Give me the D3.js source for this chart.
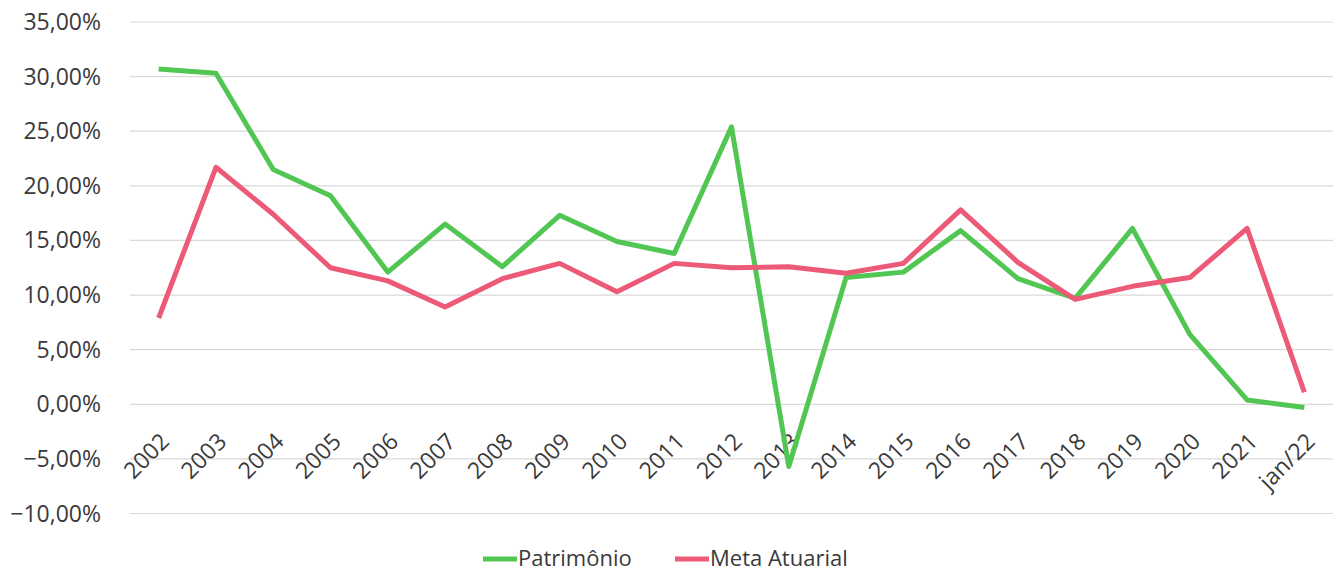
<!DOCTYPE html>
<html>
<head>
<meta charset="utf-8">
<script src="https://cdn.jsdelivr.net/npm/d3@7"></script>
<style>
  body { margin: 0; background: #fff; }
  text { font-family: "Open Sans", "Noto Sans", sans-serif; fill: #3a3a3a; }
</style>
</head>
<body>
<div id="chart"></div>
<script>
var width = 1336, height = 574;

// categories and series
var years = ["2002","2003","2004","2005","2006","2007","2008","2009","2010","2011","2012",
             "2013","2014","2015","2016","2017","2018","2019","2020","2021","jan/22"];
var patrimonio = [30.7, 30.3, 21.5, 19.1, 12.1, 16.5, 12.6, 17.3, 14.9, 13.8, 25.4,
                  -5.7, 11.6, 12.1, 15.9, 11.5, 9.7, 16.1, 6.4, 0.4, -0.3];
var metaAtuarial = [7.9, 21.7, 17.4, 12.5, 11.3, 8.9, 11.5, 12.9, 10.3, 12.9, 12.5,
                    12.6, 12.0, 12.9, 17.8, 13.0, 9.6, 10.8, 11.6, 16.1, 1.1];
var yTicks = [-10, -5, 0, 5, 10, 15, 20, 25, 30, 35];

var series = [
  {name: "Patrimônio", values: patrimonio, color: "#52c652"},
  {name: "Meta Atuarial", values: metaAtuarial, color: "#ec5a78"}
];

var margin = {left: 130, right: 3, top: 22, bottom: 60};

var svg = d3.select("#chart").append("svg")
  .attr("width", width)
  .attr("height", height);

var x = d3.scaleBand()
  .domain(years)
  .range([margin.left, width - margin.right]);

var y = d3.scaleLinear()
  .domain([-10, 35])
  .range([513.5, 22]);

// gridlines
svg.append("g")
  .selectAll("line")
  .data(yTicks)
  .enter()
  .append("line")
  .attr("x1", margin.left)
  .attr("x2", width - margin.right)
  .attr("y1", d => y(d))
  .attr("y2", d => y(d))
  .attr("stroke", "#d9d9d9")
  .attr("stroke-width", 1.2);

// y labels
var fmt = d => d3.format(".2f")(d).replace(".", ",") + "%";
svg.append("g")
  .selectAll("text")
  .data(yTicks)
  .enter()
  .append("text")
  .attr("x", 101)
  .attr("y", d => y(d) + 8)
  .attr("text-anchor", "end")
  .style("font-size", "23px")
  .text(fmt);

// x labels, rotated
svg.append("g")
  .selectAll("text")
  .data(years)
  .enter()
  .append("text")
  .attr("transform", d => "translate(" + (x(d) + x.bandwidth() / 2 + 12) + "," + 443 + ") rotate(-45)")
  .attr("text-anchor", "end")
  .style("font-size", "23px")
  .text(d => d);

// lines
var line = d3.line()
  .x((d, i) => x(years[i]) + x.bandwidth() / 2)
  .y(d => y(d));

series.forEach(s => {
  svg.append("path")
    .attr("d", line(s.values))
    .attr("fill", "none")
    .attr("stroke", s.color)
    .attr("stroke-width", 5)
    .attr("stroke-linejoin", "round");
});

// legend
var legend = svg.append("g");
var lx = [483, 675];
series.forEach((s, i) => {
  legend.append("line")
    .attr("x1", lx[i])
    .attr("x2", lx[i] + 34)
    .attr("y1", 559)
    .attr("y2", 559)
    .attr("stroke", s.color)
    .attr("stroke-width", 5);
  legend.append("text")
    .attr("x", lx[i] + 35)
    .attr("y", 566)
    .style("font-size", "22px")
    .text(s.name);
});
</script>
</body>
</html>
